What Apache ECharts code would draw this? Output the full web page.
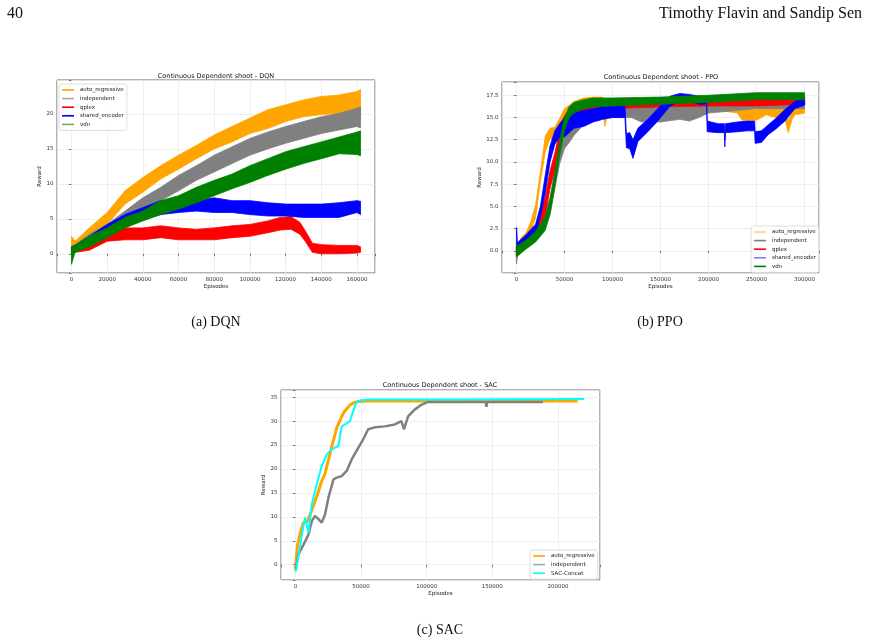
<!DOCTYPE html>
<html>
<head>
<meta charset="utf-8">
<script src="https://cdn.jsdelivr.net/npm/echarts@6/dist/echarts.min.js"></script>
<style>
  html, body { margin: 0; padding: 0; background: #fff; }
  #chart { width: 869px; height: 644px; }
</style>
</head>
<body>
<div id="chart"></div>
<script>
// ---- DQN (bands: lower / upper edge of the noisy trace)
const dqnX = [0, 2000, 10000, 20000, 30000, 40000, 50000, 60000, 70000, 80000, 90000, 100000, 110000, 120000, 130000, 140000, 150000, 160000, 162000];
const dqnAutoHi = [2.5, 1.8, 3.7, 5.9, 9.0, 10.9, 12.6, 14.1, 15.5, 17.0, 18.2, 19.4, 20.6, 21.3, 22.0, 22.5, 22.7, 23.2, 23.5];
const dqnAutoLo = [0.0, 0.6, 2.0, 4.2, 7.1, 8.8, 10.7, 12.1, 13.6, 15.0, 16.0, 17.2, 17.9, 18.9, 19.6, 19.9, 20.1, 20.1, 19.0];
const dqnIndHi = [1.0, 1.3, 2.8, 4.2, 6.1, 8.0, 9.5, 11.2, 12.6, 14.1, 15.3, 16.5, 17.4, 18.2, 18.9, 19.6, 20.1, 20.8, 21.0];
const dqnIndLo = [0.0, 0.4, 1.8, 3.0, 4.4, 6.1, 7.6, 9.0, 10.5, 11.7, 12.9, 14.1, 15.0, 15.8, 16.5, 17.2, 17.7, 18.2, 18.0];
const dqnQplexX = [0, 2000, 10000, 20000, 30000, 40000, 50000, 60000, 70000, 80000, 90000, 100000, 110000, 117000, 123000, 128000, 131000, 135000, 140000, 150000, 160000, 162000];
const dqnQplexHi = [0.8, 1.0, 1.5, 3.0, 3.7, 3.7, 4.0, 3.7, 3.5, 3.7, 4.0, 4.2, 4.7, 5.2, 5.3, 4.5, 3.3, 1.5, 1.3, 1.2, 1.2, 1.0];
const dqnQplexLo = [0.0, 0.2, 0.5, 1.8, 2.0, 2.0, 2.3, 2.0, 2.0, 2.0, 2.3, 2.5, 3.0, 3.4, 3.5, 2.8, 1.8, 0.2, 0.0, 0.0, 0.1, 0.2];
const dqnSharedHi = [1.0, 1.2, 2.5, 4.2, 5.6, 6.6, 7.6, 7.3, 7.6, 8.0, 7.6, 7.6, 7.3, 7.1, 7.1, 7.1, 7.3, 7.6, 7.5];
const dqnSharedLo = [0.0, 0.4, 1.2, 2.8, 4.2, 4.9, 5.6, 5.9, 6.1, 5.9, 5.9, 5.6, 5.4, 5.4, 5.2, 5.2, 5.2, 5.9, 5.6];
const dqnVdnHi = [1.0, 1.2, 2.5, 3.7, 5.2, 6.1, 7.6, 8.3, 9.5, 10.5, 11.4, 12.6, 13.6, 14.6, 15.3, 16.0, 16.7, 17.4, 17.6];
const dqnVdnLo = [-1.5, 0.2, 1.0, 2.3, 3.7, 4.7, 5.6, 6.4, 7.3, 8.3, 9.3, 10.2, 11.2, 12.1, 12.9, 13.6, 14.3, 14.2, 14.0];

// ---- PPO
const ppoAutoX = [0, 5000, 10000, 15000, 20000, 25000, 30000, 35000, 40000, 45000, 50000, 60000, 70000, 80000, 90000, 92000, 95000, 100000, 150000, 200000, 230000, 235000, 250000, 255000, 260000, 270000, 280000, 283000, 287000, 290000, 300000];
const ppoAutoHi = [0.5, 1.5, 2.0, 3.3, 5.2, 8.9, 12.9, 13.8, 13.9, 14.9, 16.0, 16.8, 17.2, 17.3, 17.3, 16.5, 16.8, 17.0, 17.0, 17.0, 16.8, 15.9, 15.9, 16.5, 16.8, 16.5, 16.0, 14.6, 15.8, 16.8, 17.0];
const ppoAutoLo = [-0.5, 0.5, 1.0, 2.2, 3.7, 7.8, 11.1, 12.6, 12.5, 13.8, 14.9, 15.5, 16.2, 16.3, 16.0, 14.0, 15.5, 15.8, 15.9, 16.0, 15.5, 14.7, 14.7, 15.0, 15.3, 15.0, 14.6, 13.3, 14.8, 15.3, 15.5];
const ppoIndX = [0, 2000, 10000, 20000, 30000, 35000, 40000, 45000, 50000, 55000, 60000, 70000, 80000, 100000, 120000, 130000, 150000, 170000, 180000, 190000, 200000, 250000, 300000];
const ppoIndHi = [0.3, 0.8, 1.5, 2.8, 4.5, 6.0, 8.8, 11.5, 12.8, 13.6, 14.5, 15.5, 16.0, 16.3, 16.3, 16.3, 16.5, 16.5, 16.3, 16.5, 16.7, 16.8, 17.0];
const ppoIndLo = [-1.5, 0.0, 0.5, 1.5, 2.5, 4.0, 7.0, 9.8, 11.5, 12.2, 13.0, 14.2, 14.8, 15.0, 15.0, 14.5, 14.5, 14.8, 14.6, 15.0, 15.5, 16.0, 16.0];
const ppoQplexX = [0, 10000, 20000, 30000, 35000, 40000, 45000, 50000, 60000, 80000, 100000, 150000, 200000, 250000, 300000];
const ppoQplexHi = [0.5, 1.3, 2.8, 6.0, 9.0, 11.0, 13.5, 15.2, 16.5, 16.9, 17.0, 17.0, 17.1, 17.2, 17.3];
const ppoQplexLo = [-0.5, 0.3, 1.5, 4.0, 7.0, 9.0, 11.5, 13.5, 15.3, 15.8, 16.0, 16.2, 16.3, 16.3, 16.5];
const ppoSharedX = [0, 300, 1000, 10000, 20000, 25000, 30000, 35000, 40000, 45000, 50000, 60000, 70000, 80000, 90000, 100000, 113000, 114500, 118000, 121300, 126500, 136800, 147100, 160000, 170000, 180000, 190000, 198000, 198600, 210000, 216500, 217000, 217500, 230000, 240000, 248000, 248500, 255000, 262300, 270000, 279500, 289800, 300000];
const ppoSharedHi = [2.6, 2.6, 0.9, 1.8, 3.0, 5.0, 8.5, 11.8, 13.5, 14.3, 15.0, 15.5, 15.8, 16.0, 16.2, 16.3, 16.3, 13.2, 13.3, 12.5, 13.8, 14.8, 16.0, 17.4, 17.7, 17.6, 17.4, 17.3, 14.6, 14.3, 14.3, 12.5, 14.3, 14.5, 14.6, 14.6, 13.4, 13.5, 14.2, 14.9, 15.9, 16.8, 17.3];
const ppoSharedLo = [-0.5, -0.3, 0.0, 0.8, 2.0, 3.8, 6.5, 10.0, 12.0, 12.8, 12.8, 13.8, 14.0, 14.5, 14.8, 15.0, 15.0, 11.6, 11.5, 10.4, 12.3, 13.4, 14.6, 16.3, 16.8, 16.8, 16.5, 16.5, 13.4, 13.3, 13.3, 11.7, 13.3, 13.4, 13.5, 13.5, 12.1, 12.2, 13.1, 13.7, 14.6, 16.0, 16.4];
const ppoVdnX = [0, 10000, 20000, 30000, 35000, 40000, 45000, 50000, 55000, 60000, 70000, 80000, 100000, 150000, 200000, 250000, 300000];
const ppoVdnHi = [0.5, 1.2, 2.2, 3.8, 5.8, 8.8, 12.3, 15.0, 16.2, 16.7, 17.0, 17.2, 17.2, 17.3, 17.5, 17.8, 17.8];
const ppoVdnLo = [-0.7, 0.2, 1.0, 2.3, 4.2, 7.2, 10.7, 13.5, 15.0, 15.5, 16.0, 16.2, 16.3, 16.5, 16.7, 17.0, 17.0];

// ---- SAC (smooth enough to draw as lines)
const sacAutoX = [0, 1500, 3500, 6000, 9000, 12500, 16500, 20000, 22500, 27000, 31400, 36500, 41500, 45000, 48000, 55000, 100000, 150000, 215000];
const sacAutoY = [-1.0, 4.0, 6.5, 8.8, 9.0, 11.5, 14.5, 17.5, 19.0, 24.0, 28.6, 31.7, 33.4, 33.9, 34.1, 34.2, 34.2, 34.2, 34.2];
const sacIndX = [0, 2300, 6100, 9900, 12400, 14900, 17500, 20000, 22500, 25100, 28900, 31400, 35200, 39000, 42800, 47800, 51600, 55400, 60500, 68100, 75700, 80700, 82700, 85800, 90800, 95900, 100900, 145000, 145500, 146000, 188600];
const sacIndY = [-1.0, 2.2, 4.2, 6.3, 9.1, 10.2, 9.5, 8.8, 10.5, 14.0, 17.8, 18.2, 18.5, 19.6, 22.0, 24.4, 26.2, 28.3, 28.7, 28.9, 29.3, 30.0, 28.3, 31.0, 32.4, 33.4, 34.0, 34.0, 33.0, 34.0, 34.0];
const sacConcatX = [0, 3000, 5000, 7300, 9900, 12400, 16200, 20000, 23800, 27600, 32700, 34000, 35200, 37700, 41500, 44000, 46100, 49100, 55000, 100000, 220000];
const sacConcatY = [-1.5, 3.0, 6.5, 9.8, 6.7, 12.6, 16.8, 20.6, 23.0, 24.1, 24.8, 27.0, 28.9, 29.3, 30.0, 32.1, 33.8, 34.3, 34.5, 34.5, 34.6];

const ORANGE = '#ffa500', GREY = '#808080', RED = '#ff0000', BLUE = '#0000ff', GREEN = '#008000', CYAN = '#00ffff';
const FONT = 'DejaVu Sans';

const chart = echarts.init(document.getElementById('chart'));

function band(name, idx, X, LO, HI, color) {
  return {
    type: 'custom', name: name, xAxisIndex: idx, yAxisIndex: idx,
    data: X.map((x, i) => [x, LO[i], HI[i]]),
    encode: { x: 0, y: [1, 2] },
    itemStyle: { color: color },
    silent: true,
    renderItem: function (params, api) {
      if (params.dataIndex !== 0) return null;
      const top = X.map((x, i) => api.coord([x, HI[i]]));
      const bot = X.map((x, i) => api.coord([x, LO[i]])).reverse();
      return {
        type: 'polygon',
        shape: { points: top.concat(bot) },
        style: { fill: color, stroke: color, lineWidth: 0.8 }
      };
    }
  };
}

function line(name, idx, X, Y, color, w) {
  return {
    type: 'line', name: name, xAxisIndex: idx, yAxisIndex: idx,
    data: X.map((x, i) => [x, Y[i]]),
    showSymbol: false, symbol: 'none', silent: true,
    lineStyle: { color: color, width: w },
    itemStyle: { color: color }
  };
}

const tickStyle = { show: true, length: 2.5, lineStyle: { color: '#444', width: 0.7 } };
const gridLine = { show: true, lineStyle: { color: '#ebebeb', width: 0.8 } };
const nameStyle = { fontSize: 5.5, color: '#222', fontFamily: FONT };

function xAx(gi, min, max, split, step, gap) {
  return {
    type: 'value', gridIndex: gi, min: min, max: max, splitNumber: split,
    name: 'Episodes', nameLocation: 'middle', nameGap: gap, nameTextStyle: nameStyle,
    axisLine: { show: false }, axisTick: tickStyle, splitLine: gridLine,
    axisLabel: {
      fontSize: 5.5, color: '#333', margin: 3.5, fontFamily: FONT,
      formatter: v => (Math.abs(v % step) < 1e-6 ? String(v) : '')
    }
  };
}

function yAx(gi, min, max, extra, step, dec, gap) {
  return Object.assign({
    type: 'value', gridIndex: gi, min: min, max: max,
    name: 'Reward', nameLocation: 'middle', nameGap: gap, nameRotate: 90, nameTextStyle: nameStyle,
    axisLine: { show: false }, axisTick: tickStyle, splitLine: gridLine,
    axisLabel: {
      fontSize: 5.5, color: '#333', margin: 3.5, fontFamily: FONT,
      formatter: v => {
        const r = Math.round(v / step) * step;
        return (v >= -1e-6 && Math.abs(v - r) < 1e-6) ? v.toFixed(dec) : '';
      }
    }
  }, extra);
}

function legend(left, top, items) {
  return {
    left: left, top: top, orient: 'vertical', selectedMode: false,
    icon: 'rect', itemWidth: 12, itemHeight: 1.6, itemGap: 2.6,
    padding: [3, 3, 3, 3],
    borderColor: '#d6d6d6', borderWidth: 0.8, borderRadius: 2,
    backgroundColor: 'rgba(255,255,255,0.85)',
    textStyle: { fontSize: 5.5, color: '#222', fontFamily: FONT, padding: [0, 0, 0, 1] },
    data: items.map(it => ({ name: it[0], itemStyle: { color: it[1] } }))
  };
}

function txt(x, y, s, font, align) {
  return {
    type: 'text', x: x, y: y, silent: true,
    style: { text: s, font: font, fill: '#111', align: align, textAlign: align, verticalAlign: 'middle', textVerticalAlign: 'middle' }
  };
}

const option = {
  animation: false,
  backgroundColor: '#fff',
  grid: [
    { left: 57, top: 80, width: 318, height: 193, show: true, borderColor: '#666', borderWidth: 1, backgroundColor: 'transparent' },
    { left: 502, top: 82, width: 317, height: 191, show: true, borderColor: '#666', borderWidth: 1, backgroundColor: 'transparent' },
    { left: 281, top: 390, width: 319, height: 190, show: true, borderColor: '#666', borderWidth: 1, backgroundColor: 'transparent' }
  ],
  xAxis: [
    xAx(0, -8100, 170100, 9, 20000, 10),
    xAx(1, -15000, 315000, 6, 50000, 10),
    xAx(2, -11050, 232050, 5, 50000, 10)
  ],
  yAxis: [
    yAx(0, -2.75, 24.85, { splitNumber: 5 }, 5, 0, 12),
    yAx(1, -2.5, 19.0, { interval: 2.5 }, 2.5, 1, 18),
    yAx(2, -3.2, 36.5, { splitNumber: 8 }, 5, 0, 14)
  ],
  legend: [
    legend(59, 84, [['auto_regressive', ORANGE], ['independent', '#a6a6a6'], ['qplex', RED], ['shared_encoder', BLUE], ['vdn', '#66b266']]),
    legend(751, 226, [['auto_regressive', '#ffd27f'], ['independent', GREY], ['qplex', RED], ['shared_encoder', '#7f7fff'], ['vdn', GREEN]]),
    legend(530, 550, [['auto_regressive', ORANGE], ['independent', '#a6a6a6'], ['SAC-Concat', CYAN]])
  ],
  series: [
    band('auto_regressive', 0, dqnX, dqnAutoLo, dqnAutoHi, ORANGE),
    band('independent', 0, dqnX, dqnIndLo, dqnIndHi, GREY),
    band('qplex', 0, dqnQplexX, dqnQplexLo, dqnQplexHi, RED),
    band('shared_encoder', 0, dqnX, dqnSharedLo, dqnSharedHi, BLUE),
    band('vdn', 0, dqnX, dqnVdnLo, dqnVdnHi, GREEN),

    band('auto_regressive', 1, ppoAutoX, ppoAutoLo, ppoAutoHi, ORANGE),
    band('independent', 1, ppoIndX, ppoIndLo, ppoIndHi, GREY),
    band('qplex', 1, ppoQplexX, ppoQplexLo, ppoQplexHi, RED),
    band('shared_encoder', 1, ppoSharedX, ppoSharedLo, ppoSharedHi, BLUE),
    band('vdn', 1, ppoVdnX, ppoVdnLo, ppoVdnHi, GREEN),

    line('auto_regressive', 2, sacAutoX, sacAutoY, ORANGE, 3),
    line('independent', 2, sacIndX, sacIndY, GREY, 2.5),
    line('SAC-Concat', 2, sacConcatX, sacConcatY, CYAN, 2)
  ],
  graphic: { elements: [
    txt(7, 14, '40', '16px "Liberation Serif"', 'left'),
    txt(862, 14, 'Timothy Flavin and Sandip Sen', '16px "Liberation Serif"', 'right'),
    txt(216, 76, 'Continuous Dependent shoot - DQN', '6.5px "DejaVu Sans"', 'center'),
    txt(661, 77, 'Continuous Dependent shoot - PPO', '6.5px "DejaVu Sans"', 'center'),
    txt(440, 385, 'Continuous Dependent shoot - SAC', '6.5px "DejaVu Sans"', 'center'),
    txt(216, 322, '(a) DQN', '14px "Liberation Serif"', 'center'),
    txt(660, 322, '(b) PPO', '14px "Liberation Serif"', 'center'),
    txt(440, 630, '(c) SAC', '14px "Liberation Serif"', 'center')
  ] }
};

chart.setOption(option);
</script>
</body>
</html>
